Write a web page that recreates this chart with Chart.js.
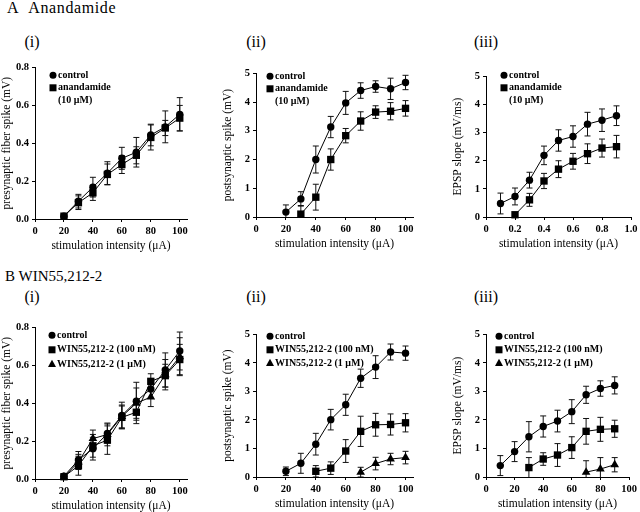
<!DOCTYPE html>
<html>
<head>
<meta charset="utf-8">
<script src="https://cdn.jsdelivr.net/npm/chart.js@4/dist/chart.umd.min.js"></script>
<style>
  body { margin: 0; background: #fff; width: 640px; height: 512px; position: relative; overflow: hidden; font-family: "Liberation Serif", serif; }
  .lbl { position: absolute; transform: translate(-50%, -50%); white-space: nowrap; line-height: 1; color: #000; }
  .hdr { position: absolute; transform: translateY(-50%); white-space: nowrap; line-height: 1; color: #000; }
  canvas { position: absolute; }
</style>
</head>
<body>
<div class="hdr" style="left:7px;top:8px;font-size:16px;letter-spacing:0.6px">A&nbsp;&nbsp;Anandamide</div>
<div class="hdr" style="left:5px;top:276px;font-size:15px">B WIN55,212-2</div>
<div class="lbl" style="left:32px;top:42px;font-size:16px">(i)</div>
<div class="lbl" style="left:256px;top:42px;font-size:16px">(ii)</div>
<div class="lbl" style="left:486px;top:42px;font-size:16px">(iii)</div>
<div class="lbl" style="left:32px;top:297px;font-size:16px">(i)</div>
<div class="lbl" style="left:256px;top:297px;font-size:16px">(ii)</div>
<div class="lbl" style="left:486px;top:297px;font-size:16px">(iii)</div>
<script>
// ---- data ----
var xTitle = 'stimulation intensity (μA)';
var legendA = ['control', 'anandamide', '(10 μM)'];
var legendB = ['control', 'WIN55,212-2 (100 nM)', 'WIN55,212-2 (1 μM)'];

// A (i) presynaptic fiber spike
var xA1 = [20, 30, 40, 50, 60, 70, 80, 90, 100];
var a1Control = [0.015, 0.094, 0.168, 0.242, 0.32, 0.352, 0.443, 0.486, 0.552];
var a1ControlErr = [0.004, 0.036, 0.052, 0.06, 0.058, 0.078, 0.057, 0.084, 0.088];
var a1Anand = [0.015, 0.086, 0.138, 0.235, 0.287, 0.336, 0.43, 0.48, 0.532];
var a1AnandErr = [0.004, 0.036, 0.04, 0.055, 0.047, 0.045, 0.066, 0.04, 0.067];

// A (ii) postsynaptic spike
var xA2c = [20, 30, 40, 50, 60, 70, 80, 90, 100];
var a2Control = [0.17, 0.63, 2.0, 3.13, 3.97, 4.4, 4.54, 4.46, 4.68];
var a2ControlErr = [0.25, 0.25, 0.47, 0.37, 0.4, 0.27, 0.2, 0.37, 0.25];
var xA2a = [30, 40, 50, 60, 70, 80, 90, 100];
var a2Anand = [0.1, 0.69, 2.0, 2.83, 3.34, 3.65, 3.68, 3.78];
var a2AnandErr = [0.3, 0.45, 0.37, 0.25, 0.32, 0.22, 0.3, 0.27];

// A (iii) EPSP slope
var xA3c = [0.1, 0.2, 0.3, 0.4, 0.5, 0.6, 0.7, 0.8, 0.9];
var a3Control = [0.48, 0.73, 1.31, 2.19, 2.72, 2.86, 3.3, 3.44, 3.6];
var a3ControlErr = [0.37, 0.3, 0.28, 0.33, 0.38, 0.38, 0.42, 0.4, 0.35];
var xA3a = [0.2, 0.3, 0.4, 0.5, 0.6, 0.7, 0.8, 0.9];
var a3Anand = [0.08, 0.61, 1.28, 1.7, 1.98, 2.25, 2.45, 2.5];
var a3AnandErr = [0, 0.23, 0.27, 0.3, 0.28, 0.35, 0.32, 0.4];

// B (i) presynaptic fiber spike
var xB1 = [20, 30, 40, 50, 60, 70, 80, 90, 100];
var b1Control = [0.015, 0.1, 0.16, 0.24, 0.335, 0.41, 0.475, 0.575, 0.675];
var b1ControlErr = [0.005, 0.045, 0.06, 0.05, 0.07, 0.1, 0.05, 0.09, 0.1];
var b1Mid = [0.012, 0.07, 0.175, 0.205, 0.325, 0.352, 0.515, 0.545, 0.63];
var b1MidErr = [0.005, 0.05, 0.06, 0.075, 0.06, 0.06, 0.04, 0.06, 0.08];
var b1High = [0.01, 0.09, 0.213, 0.235, 0.33, 0.4, 0.432, 0.55, 0.645];
var b1HighErr = [0.005, 0.04, 0.045, 0.06, 0.06, 0.08, 0.05, 0.08, 0.1];

// B (ii) postsynaptic spike
var xB2c = [20, 30, 40, 50, 60, 70, 80, 90, 100];
var b2Control = [0.2, 0.48, 1.15, 2.01, 2.53, 3.46, 3.85, 4.38, 4.34];
var b2ControlErr = [0.15, 0.35, 0.38, 0.36, 0.37, 0.32, 0.4, 0.28, 0.25];
var xB2m = [40, 50, 60, 70, 80, 90, 100];
var b2Mid = [0.2, 0.31, 0.91, 1.6, 1.83, 1.84, 1.9];
var b2MidErr = [0.2, 0.22, 0.4, 0.53, 0.4, 0.37, 0.32];
var xB2h = [70, 80, 90, 100];
var b2High = [0.17, 0.47, 0.63, 0.68];
var b2HighErr = [0.17, 0.22, 0.2, 0.22];

// B (iii) EPSP slope
var xB3c = [10, 20, 30, 40, 50, 60, 70, 80, 90];
var b3Control = [0.4, 0.89, 1.41, 1.77, 1.96, 2.29, 2.88, 3.1, 3.21];
var b3ControlErr = [0.35, 0.35, 0.53, 0.37, 0.38, 0.42, 0.3, 0.27, 0.3];
var xB3m = [30, 40, 50, 60, 70, 80, 90];
var b3Mid = [0.33, 0.63, 0.77, 1.03, 1.6, 1.67, 1.69];
var b3MidErr = [0.35, 0.22, 0.4, 0.38, 0.45, 0.42, 0.3];
var xB3h = [70, 80, 90];
var b3High = [0.17, 0.28, 0.43];
var b3HighErr = [0.4, 0.4, 0.25];

// ---- drawing ----
var FONT = '"Liberation Serif", "Times New Roman", serif';
Chart.defaults.color = '#000';
Chart.defaults.font.family = FONT;
Chart.defaults.animation = false;

var RADIUS = { circle: 3.7, rect: 5.2, triangle: 5 };

function drawMarker(ctx, shape, x, y) {
  ctx.beginPath();
  if (shape == 'circle') {
    ctx.arc(x, y, 3.5, 0, Math.PI * 2);
  } else if (shape == 'rect') {
    ctx.rect(x - 3.5, y - 3.5, 7, 7);
  } else if (shape == 'triangle') {
    ctx.moveTo(x, y - 4.5);
    ctx.lineTo(x + 4, y + 2.8);
    ctx.lineTo(x - 4, y + 2.8);
    ctx.closePath();
  }
  ctx.fill();
}

// error bars drawn under the markers
var errorBars = {
  id: 'errorBars',
  beforeDatasetsDraw: function(chart) {
    var ctx = chart.ctx, yScale = chart.scales.y, area = chart.chartArea;
    ctx.save();
    ctx.beginPath();
    ctx.rect(area.left - 10, area.top - 20, area.right - area.left + 20, area.bottom - area.top + 20);
    ctx.clip();
    ctx.strokeStyle = '#111';
    ctx.lineWidth = 1;
    chart.data.datasets.forEach(function(ds, di) {
      var meta = chart.getDatasetMeta(di);
      meta.data.forEach(function(pt, i) {
        var e = ds.errors[i];
        if (!e) return;
        var v = ds.data[i].y;
        var top = yScale.getPixelForValue(v + e);
        var bot = yScale.getPixelForValue(v - e);
        ctx.beginPath();
        ctx.moveTo(pt.x, top); ctx.lineTo(pt.x, bot);
        ctx.moveTo(pt.x - 3, top); ctx.lineTo(pt.x + 3, top);
        ctx.moveTo(pt.x - 3, bot); ctx.lineTo(pt.x + 3, bot);
        ctx.stroke();
      });
    });
    ctx.restore();
  }
};

// legend placed inside the plot, top left
var insideLegend = {
  id: 'insideLegend',
  afterDraw: function(chart, args, opts) {
    var ctx = chart.ctx, area = chart.chartArea;
    ctx.save();
    ctx.font = 'bold 10px ' + FONT;
    ctx.textBaseline = 'middle';
    ctx.fillStyle = '#000';
    opts.items.forEach(function(it, i) {
      var x = area.left + opts.dx;
      var y = area.top + opts.dy + i * opts.gap;
      if (it.shape) drawMarker(ctx, it.shape, x, y);
      ctx.fillText(it.text, x + 5, y);
    });
    ctx.restore();
  }
};

function pts(xs, ys) {
  return xs.map(function(x, i) { return { x: x, y: ys[i] }; });
}

function series(label, xs, ys, errs, shape) {
  return {
    label: label,
    data: pts(xs, ys),
    errors: errs,
    borderColor: '#000',
    borderWidth: 1,
    backgroundColor: '#000',
    pointStyle: shape,
    pointRadius: RADIUS[shape],
    pointBorderWidth: 0,
    pointBackgroundColor: '#000',
    tension: 0,
    clip: false
  };
}

function axis(min, max, step, tickMax, fmt, title, isX) {
  return {
    type: 'linear',
    min: min,
    max: max,
    border: { display: true, color: '#000', width: 1 },
    grid: { drawOnChartArea: false, drawTicks: true, tickLength: 3, color: '#000' },
    ticks: {
      stepSize: step,
      includeBounds: false,
      padding: 3,
      font: { size: 10.5, weight: 'bold', family: FONT },
      color: '#000',
      callback: fmt
    },
    afterBuildTicks: function(s) {
      s.ticks = s.ticks.filter(function(t) { return t.value <= tickMax + 1e-9; });
    },
    afterFit: function(s) {
      if (isX) s.height = 34; else s.width = 35;
    },
    title: { display: true, text: title, font: { size: 11.5, family: FONT }, color: '#000', padding: { top: 0, bottom: 0 } }
  };
}

function intFmt(v) { return String(Math.round(v)); }
function dec1(v) { return v.toFixed(1); }
function dec1z(v) { return Math.abs(v) < 1e-9 ? '0' : v.toFixed(1); }

function panel(p) {
  var padTop = 8, padRight = 12, yW = 35, xH = 34;
  var left = p.L - yW, top = p.T - padTop;
  var width = p.R + padRight - left, height = p.B + xH - top;
  var cv = document.createElement('canvas');
  cv.width = width; cv.height = height;
  cv.style.left = left + 'px'; cv.style.top = top + 'px';
  cv.style.width = width + 'px'; cv.style.height = height + 'px';
  document.body.appendChild(cv);
  new Chart(cv, {
    type: 'line',
    data: { datasets: p.datasets },
    options: {
      responsive: false,
      devicePixelRatio: 1,
      layout: { padding: { top: padTop, right: padRight, bottom: 0, left: 0 } },
      plugins: {
        legend: { display: false },
        tooltip: { enabled: false },
        insideLegend: p.legend
      },
      scales: {
        x: axis(0, p.xMax, p.xStep, p.xTickMax, p.xFmt, xTitle, true),
        y: axis(0, p.yMax, p.yStep, p.yMax, p.yFmt, p.yTitle, false)
      }
    },
    plugins: [errorBars, insideLegend]
  });
}

function legendItems(names, shapes) {
  return names.map(function(n, i) { return { text: n, shape: shapes[i] }; });
}

panel({
  L: 35, T: 66, R: 187, B: 219, xMax: 105, xStep: 20, xTickMax: 100, xFmt: intFmt,
  yMax: 0.8, yStep: 0.2, yFmt: dec1, yTitle: 'presynaptic fiber spike (mV)',
  datasets: [
    series(legendA[0], xA1, a1Control, a1ControlErr, 'circle'),
    series(legendA[1], xA1, a1Anand, a1AnandErr, 'rect')
  ],
  legend: { dx: 18, dy: 8, gap: 12.5, items: legendItems(legendA, ['circle', 'rect', null]) }
});

panel({
  L: 256, T: 72, R: 413, B: 217, xMax: 105, xStep: 20, xTickMax: 100, xFmt: intFmt,
  yMax: 5, yStep: 1, yFmt: intFmt, yTitle: 'postsynaptic spike (mV)',
  datasets: [
    series(legendA[0], xA2c, a2Control, a2ControlErr, 'circle'),
    series(legendA[1], xA2a, a2Anand, a2AnandErr, 'rect')
  ],
  legend: { dx: 14, dy: 3, gap: 12.5, items: legendItems(legendA, ['circle', 'rect', null]) }
});

panel({
  L: 486, T: 75, R: 631, B: 217, xMax: 1.0, xStep: 0.2, xTickMax: 1.0, xFmt: dec1z,
  yMax: 5, yStep: 1, yFmt: intFmt, yTitle: 'EPSP slope (mV/ms)',
  datasets: [
    series(legendA[0], xA3c, a3Control, a3ControlErr, 'circle'),
    series(legendA[1], xA3a, a3Anand, a3AnandErr, 'rect')
  ],
  legend: { dx: 18, dy: -1, gap: 12.5, items: legendItems(legendA, ['circle', 'rect', null]) }
});

panel({
  L: 35, T: 326, R: 187, B: 479, xMax: 105, xStep: 20, xTickMax: 100, xFmt: intFmt,
  yMax: 0.8, yStep: 0.2, yFmt: dec1, yTitle: 'presynaptic fiber spike (mV)',
  datasets: [
    series(legendB[0], xB1, b1Control, b1ControlErr, 'circle'),
    series(legendB[1], xB1, b1Mid, b1MidErr, 'rect'),
    series(legendB[2], xB1, b1High, b1HighErr, 'triangle')
  ],
  legend: { dx: 17, dy: 8, gap: 14.5, items: legendItems(legendB, ['circle', 'rect', 'triangle']) }
});

panel({
  L: 256, T: 333, R: 413, B: 477, xMax: 105, xStep: 20, xTickMax: 100, xFmt: intFmt,
  yMax: 5, yStep: 1, yFmt: intFmt, yTitle: 'postsynaptic spike (mV)',
  datasets: [
    series(legendB[0], xB2c, b2Control, b2ControlErr, 'circle'),
    series(legendB[1], xB2m, b2Mid, b2MidErr, 'rect'),
    series(legendB[2], xB2h, b2High, b2HighErr, 'triangle')
  ],
  legend: { dx: 14, dy: 2, gap: 13.5, items: legendItems(legendB, ['circle', 'rect', 'triangle']) }
});

panel({
  L: 486, T: 333, R: 629, B: 477, xMax: 100, xStep: 20, xTickMax: 100, xFmt: intFmt,
  yMax: 5, yStep: 1, yFmt: intFmt, yTitle: 'EPSP slope (mV/ms)',
  datasets: [
    series(legendB[0], xB3c, b3Control, b3ControlErr, 'circle'),
    series(legendB[1], xB3m, b3Mid, b3MidErr, 'rect'),
    series(legendB[2], xB3h, b3High, b3HighErr, 'triangle')
  ],
  legend: { dx: 13, dy: 2, gap: 13.5, items: legendItems(legendB, ['circle', 'rect', 'triangle']) }
});
</script>
</body>
</html>
